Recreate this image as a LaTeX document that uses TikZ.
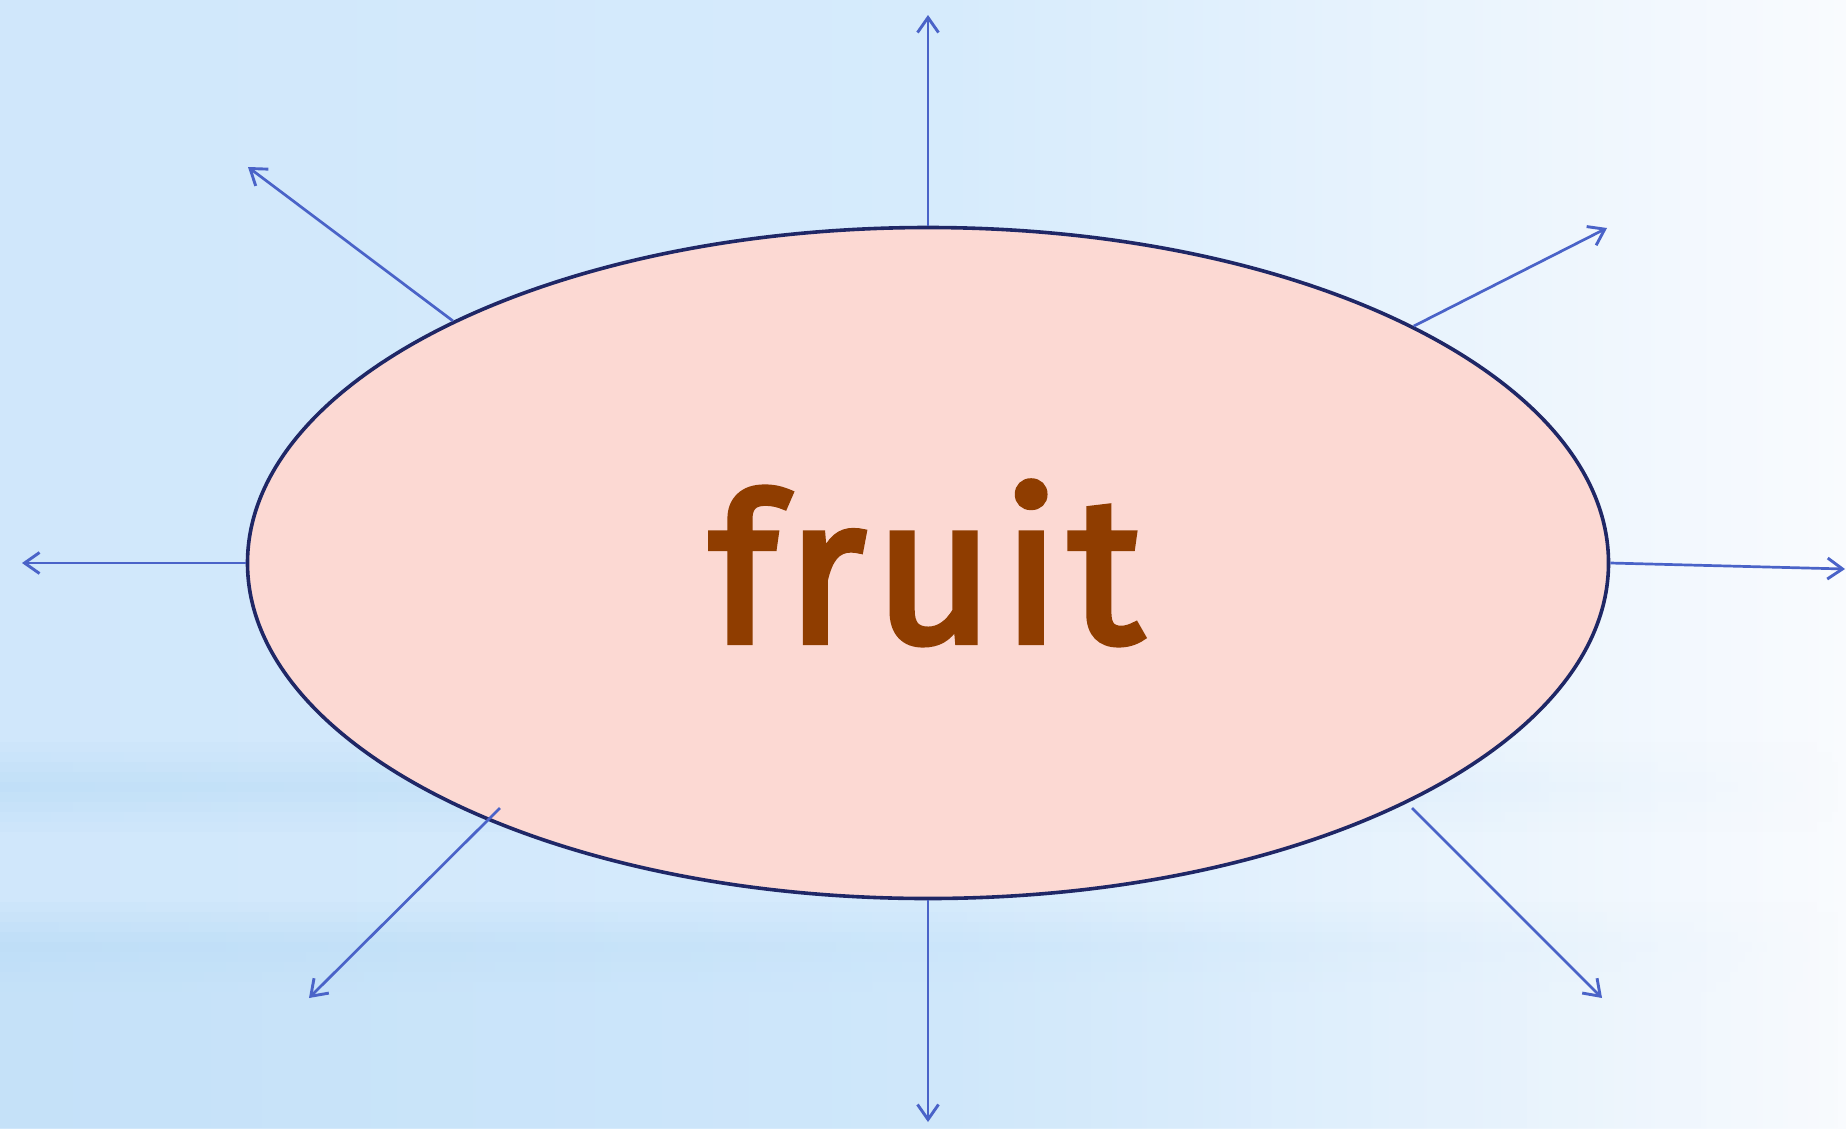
\documentclass[tikz,border=0pt]{standalone}
\usepackage{fontspec}
\setmainfont{Fira Sans}
\newfontfamily\labelfont{Fira Sans}[FakeBold=3, LetterSpace=4]
\usetikzlibrary{arrows.meta,fadings,shapes.geometric}
\tikzfading[name=fadeR, left color=transparent!0, right color=transparent!100]
\definecolor{bgA}{HTML}{D0E7FB}
\definecolor{bgB}{HTML}{D6EBFC}
\definecolor{bgC}{HTML}{F9FBFE}
\definecolor{band}{HTML}{B6DAF6}
\definecolor{ellF}{HTML}{FCD9D3}
\definecolor{ellD}{HTML}{1F2766}
\definecolor{arrC}{HTML}{4A63C8}
\definecolor{txtC}{HTML}{8F3D00}
\begin{document}
\begin{tikzpicture}[x=1pt,y=-1pt,
  arr/.style={draw=arrC, line width=2.7pt, -{Straight Barb[length=15pt,width=21pt,line width=2.9pt]}},
  bandstripe/.style={band, path fading=fadeR}]
\useasboundingbox (0,0) rectangle (1846,1128);
% background
\shade[left color=bgA, right color=bgB] (0,0) rectangle (950,1128);
\shade[left color=bgB, right color=bgC] (950,0) rectangle (1846,1128);
% soft horizontal bands, fading to the right
\foreach \c/\o in {-40/0.10,-30/0.2,-20/0.32,-10/0.45,0/0.55,10/0.45,20/0.32,30/0.2,40/0.10}{
  \fill[bandstripe, fill opacity=\o] (0,787+\c-5) rectangle (1846,787+\c+5);
}
\foreach \c/\o in {-40/0.12,-30/0.25,-20/0.4,-10/0.55,0/0.65,10/0.6,20/0.55,30/0.5,40/0.45}{
  \fill[bandstripe, fill opacity=\o] (0,947+\c-5) rectangle (1846,947+\c+5);
}
\fill[bandstripe, fill opacity=0.42] (0,992) rectangle (1846,1128);
% ellipse
\node[ellipse, draw=ellD, line width=3.6pt, fill=ellF, minimum width=1361pt, minimum height=671pt, inner sep=0pt] (e) at (928,563) {};
\node[text=txtC, inner sep=0pt, anchor=base] (t) at (926,642) {\fontsize{206}{240}\labelfont fruit};
% arrow ends
\coordinate (nT) at (928,15);
\coordinate (nTL) at (248,167);
\coordinate (nTR) at (1607,228);
\coordinate (nL) at (22,563);
\coordinate (nR) at (1845,569);
\coordinate (sBL) at (500,808);
\coordinate (nBL) at (309,998);
\coordinate (sBR) at (1412,808);
\coordinate (nBR) at (1602,998);
\coordinate (nB) at (928,1122);
% arrows
\draw[arr] (e.north) -- (nT);
\draw[arr] (e.153.7) -- (nTL);
\draw[arr] (e.26.4) -- (nTR);
\draw[arr] (e.west) -- (nL);
\draw[arr] (e.east) -- (nR);
\draw[arr] (sBL) -- (nBL);
\draw[arr] (sBR) -- (nBR);
\draw[arr] (e.south) -- (nB);
\end{tikzpicture}
\end{document}
